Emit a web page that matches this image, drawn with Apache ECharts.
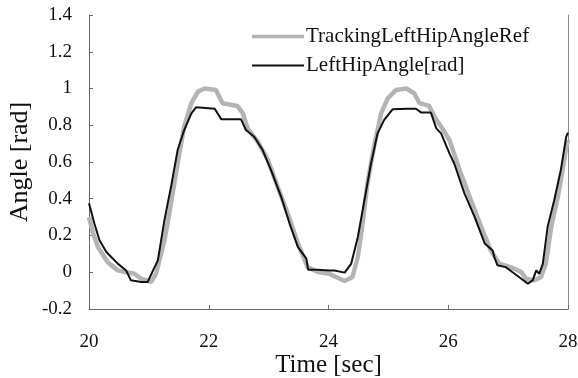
<!DOCTYPE html>
<html>
<head>
<meta charset="utf-8">
<script src="https://cdn.jsdelivr.net/npm/echarts@6/dist/echarts.min.js"></script>
<style>html,body{margin:0;padding:0;background:#fff;}#c{width:578px;height:378px;}</style>
</head>
<body>
<div id="c"></div>
<script>
// Tick labels
var xTicks = [20, 22, 24, 26, 28];
var yTicks = [-0.2, 0, 0.2, 0.4, 0.6, 0.8, 1, 1.2, 1.4];
var seriesNames = ['TrackingLeftHipAngleRef', 'LeftHipAngle[rad]'];

// Reference (grey) series
var refTime = [20.0, 20.07, 20.15, 20.31, 20.48, 20.62, 20.76, 20.87, 21.04, 21.12, 21.26, 21.37, 21.48, 21.59, 21.71, 21.82, 21.93, 22.12, 22.23, 22.48, 22.57, 22.65, 22.82, 22.99, 23.15, 23.32, 23.49, 23.65, 23.82, 24.01, 24.10, 24.27, 24.40, 24.49, 24.57, 24.65, 24.77, 24.88, 24.99, 25.13, 25.30, 25.43, 25.52, 25.68, 25.77, 25.88, 26.02, 26.21, 26.38, 26.55, 26.71, 26.85, 27.04, 27.22, 27.30, 27.44, 27.55, 27.63, 27.72, 27.83, 27.91, 27.97, 28.0];
var refValue = [0.30, 0.21, 0.137, 0.056, 0.01, 0.0, -0.008, -0.035, -0.053, -0.008, 0.174, 0.374, 0.592, 0.792, 0.92, 0.983, 1.0, 0.992, 0.92, 0.905, 0.865, 0.783, 0.71, 0.61, 0.465, 0.32, 0.156, 0.028, 0.001, -0.008, -0.022, -0.048, -0.026, 0.083, 0.265, 0.483, 0.70, 0.865, 0.947, 0.992, 1.0, 0.974, 0.92, 0.905, 0.847, 0.792, 0.72, 0.538, 0.392, 0.247, 0.119, 0.047, 0.028, 0.001, -0.035, -0.044, -0.026, 0.047, 0.247, 0.41, 0.556, 0.683, 0.72];

// Measured (black) series
var actTime = [20.0, 20.09, 20.175, 20.29, 20.48, 20.62, 20.70, 20.87, 20.98, 21.07, 21.15, 21.26, 21.37, 21.48, 21.59, 21.71, 21.79, 22.10, 22.21, 22.54, 22.62, 22.76, 22.90, 23.04, 23.21, 23.35, 23.49, 23.63, 23.66, 23.82, 24.01, 24.10, 24.27, 24.38, 24.49, 24.60, 24.71, 24.82, 24.93, 25.07, 25.32, 25.46, 25.55, 25.71, 25.80, 25.88, 26.02, 26.10, 26.27, 26.44, 26.61, 26.74, 26.77, 26.82, 26.96, 27.07, 27.22, 27.33, 27.41, 27.47, 27.52, 27.58, 27.66, 27.77, 27.88, 27.97, 28.0];
var actValue = [0.375, 0.265, 0.174, 0.11, 0.047, 0.01, -0.044, -0.053, -0.053, 0.01, 0.065, 0.283, 0.465, 0.665, 0.774, 0.865, 0.898, 0.89, 0.832, 0.832, 0.774, 0.737, 0.665, 0.556, 0.41, 0.265, 0.137, 0.074, 0.014, 0.014, 0.01, 0.01, -0.002, 0.047, 0.192, 0.392, 0.592, 0.756, 0.829, 0.887, 0.89, 0.89, 0.869, 0.869, 0.783, 0.756, 0.647, 0.592, 0.429, 0.301, 0.156, 0.119, 0.083, 0.038, 0.028, 0.001, -0.035, -0.062, -0.044, 0.01, -0.008, 0.047, 0.247, 0.392, 0.556, 0.738, 0.76];

function pairs(t, v) { return t.map(function (x, i) { return [x, v[i]]; }); }

var font = 'Liberation Serif';
var axisColor = '#6a6a6a';
// legend icons: bars of different thickness inside same box
var thickIcon = 'path://M0,0 L0.01,0 L0.01,0.01 Z M0,2.2 L52,2.2 L52,5.8 L0,5.8 Z M0,8 L0.01,8 L0.01,7.99 Z';
var thinIcon = 'path://M0,0 L0.01,0 L0.01,0.01 Z M0,3 L52,3 L52,5 L0,5 Z M0,8 L0.01,8 L0.01,7.99 Z';

var chart = echarts.init(document.getElementById('c'), null, { renderer: 'canvas' });
chart.setOption({
  animation: false,
  backgroundColor: '#fff',
  grid: { left: 89, right: 10, top: 15, bottom: 69, containLabel: false, outerBoundsMode: 'none' },
  legend: {
    orient: 'vertical', left: 247, top: 21,
    itemWidth: 52, itemHeight: 8, itemGap: 8,
    textStyle: { fontFamily: font, fontSize: 21, color: '#111', padding: [0, 0, 0, -3] },
    data: [
      { name: seriesNames[0], icon: thickIcon, itemStyle: { color: '#b4b4b4' } },
      { name: seriesNames[1], icon: thinIcon, itemStyle: { color: '#111' } }
    ]
  },
  xAxis: [{
    type: 'value', min: 20, max: 28, interval: 2,
    name: 'Time [sec]', nameLocation: 'middle', nameGap: 44, nameMoveOverlap: false,
    nameTextStyle: { fontFamily: font, fontSize: 25, color: '#111' },
    axisLine: { onZero: false, lineStyle: { color: axisColor, width: 1 } },
    axisTick: { inside: true, length: 4, lineStyle: { color: axisColor } },
    axisLabel: { fontFamily: font, fontSize: 19, color: '#111', margin: 24,
      formatter: function (v) { return xTicks.indexOf(v) >= 0 ? String(v) : ''; } },
    splitLine: { show: false }
  }],
  yAxis: [{
    type: 'value', min: -0.2, max: 1.4, interval: 0.2,
    name: 'Angle [rad]', nameLocation: 'middle', nameGap: 56, nameMoveOverlap: false,
    nameTextStyle: { fontFamily: font, fontSize: 26, color: '#111' },
    axisLine: { show: true, onZero: false, lineStyle: { color: axisColor, width: 1 } },
    axisTick: { inside: true, length: 4, lineStyle: { color: axisColor } },
    axisLabel: { fontFamily: font, fontSize: 19, color: '#111', margin: 17,
      formatter: function (v) {
        var r = Math.round(v * 10) / 10;
        for (var i = 0; i < yTicks.length; i++) { if (Math.abs(yTicks[i] - r) < 1e-9) return String(yTicks[i]); }
        return '';
      } },
    splitLine: { show: false }
  }, {
    type: 'value', min: -0.2, max: 1.4, interval: 0.2, position: 'right',
    axisLine: { show: true, onZero: false, lineStyle: { color: '#888', width: 1 } },
    axisTick: { show: false }, axisLabel: { show: false }, splitLine: { show: false }
  }],
  series: [{
    name: seriesNames[0], type: 'line', data: pairs(refTime, refValue),
    symbol: 'none', smooth: false,
    lineStyle: { color: '#b4b4b4', width: 4.5 },
    itemStyle: { color: '#b4b4b4' }, z: 2
  }, {
    name: seriesNames[1], type: 'line', data: pairs(actTime, actValue),
    symbol: 'none', smooth: false,
    lineStyle: { color: '#111', width: 2 },
    itemStyle: { color: '#111' }, z: 3
  }]
});
</script>
</body>
</html>
